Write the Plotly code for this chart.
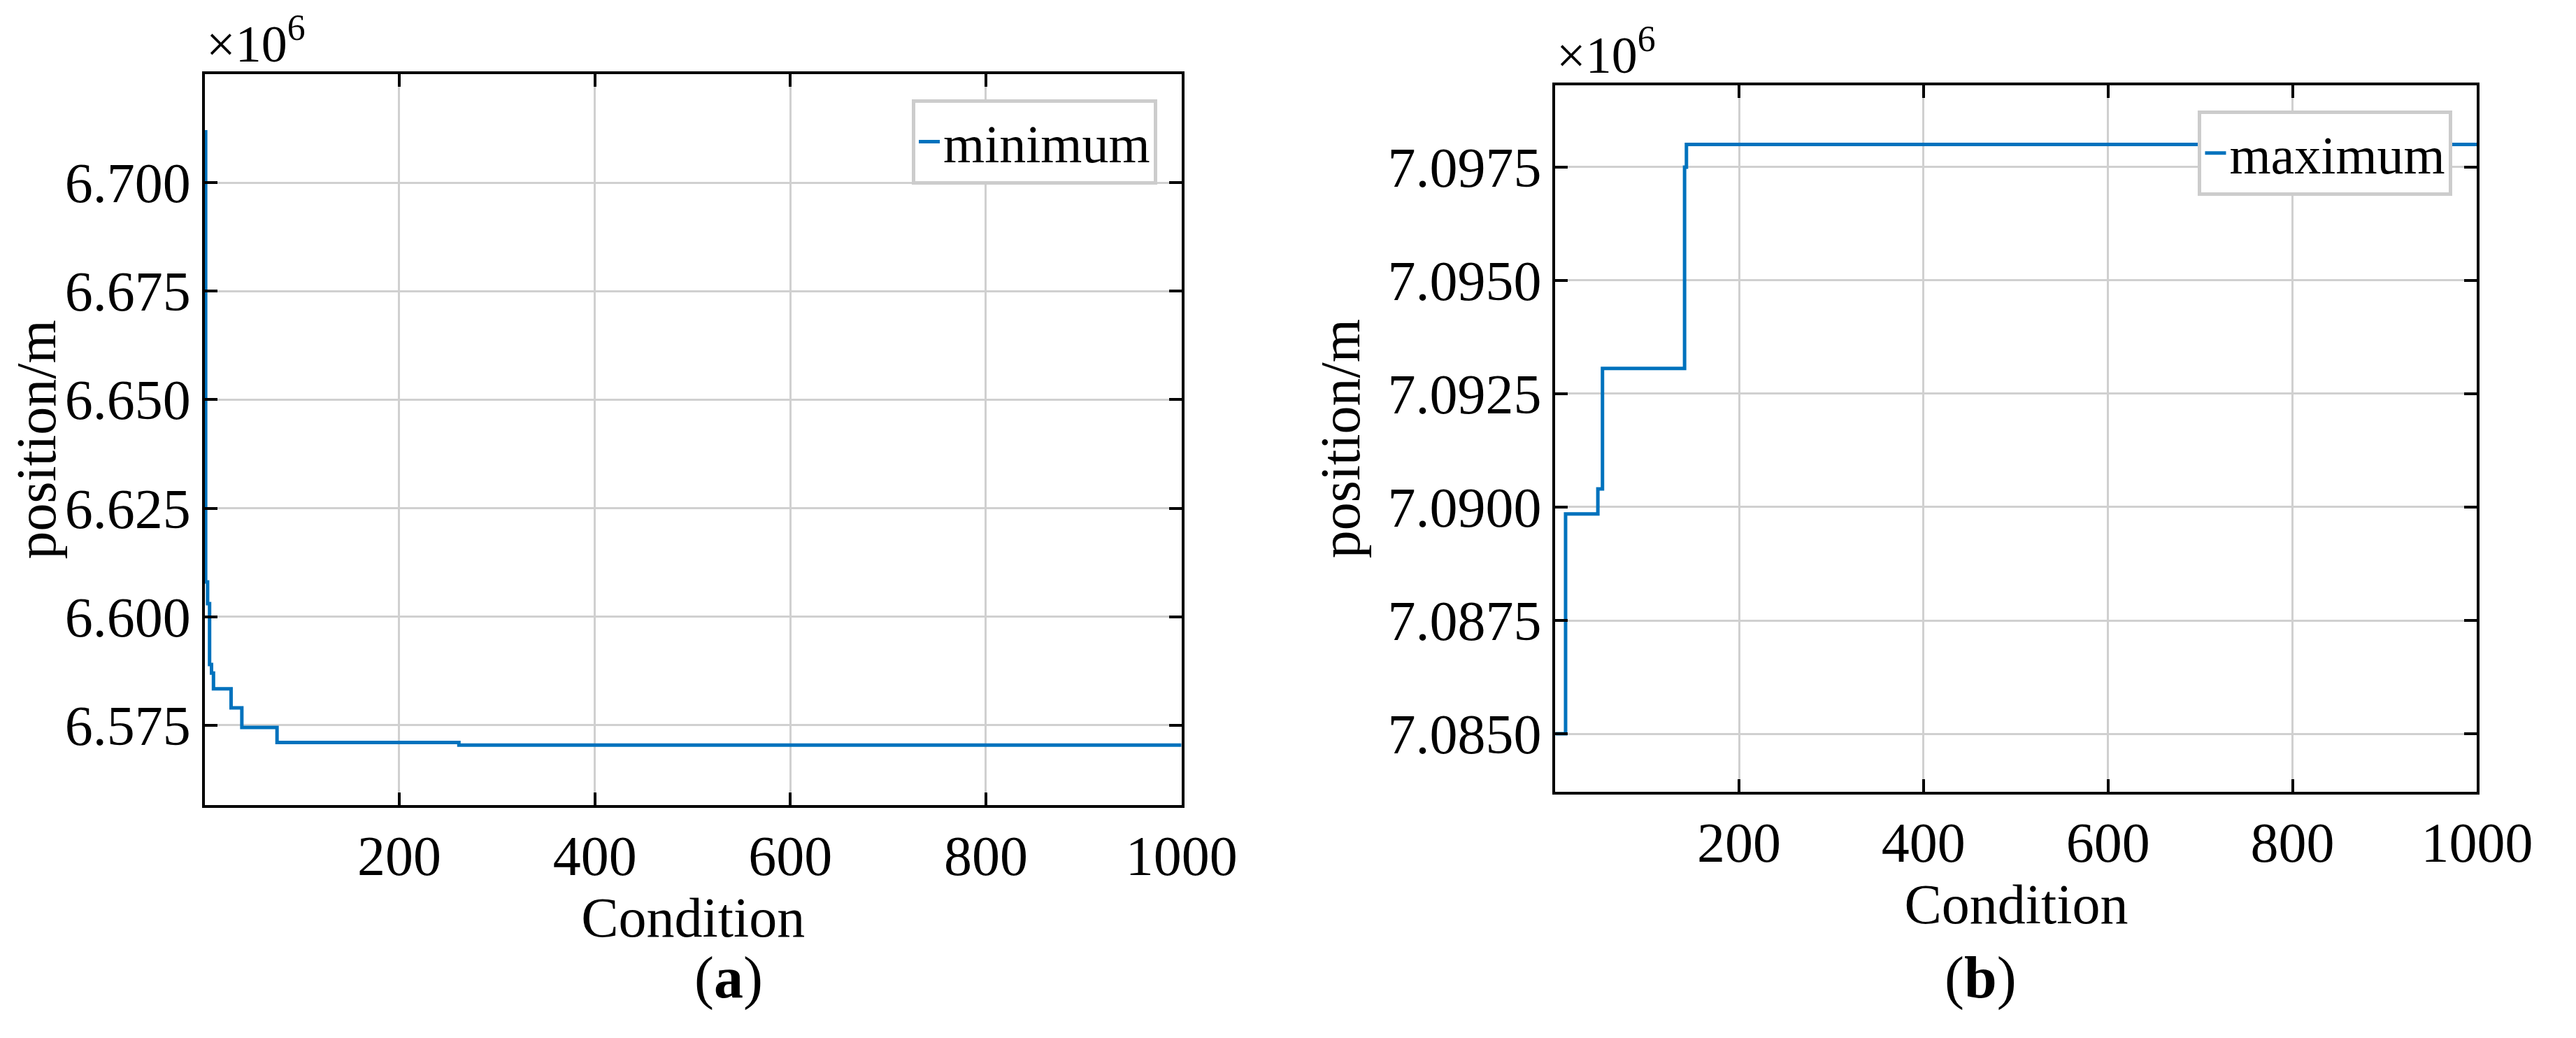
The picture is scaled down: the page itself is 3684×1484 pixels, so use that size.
import plotly.graph_objects as go

# left panel: minimum position (x10^6 m)
min_x = [1, 2, 4, 6, 8, 10, 28, 39, 75, 261, 1000]
min_y = [6.7117, 6.608, 6.603, 6.589, 6.587, 6.5834, 6.579, 6.5745, 6.571, 6.5704, 6.5704]

# right panel: maximum position (x10^6 m)
max_x = [1, 12, 47, 52, 141, 143, 1000]
max_y = [7.0850, 7.08985, 7.0904, 7.09306, 7.0975, 7.0980, 7.0980]

min_ticks = [6.575, 6.600, 6.625, 6.650, 6.675, 6.700]
max_ticks = [7.0850, 7.0875, 7.0900, 7.0925, 7.0950, 7.0975]
x_ticks = [200, 400, 600, 800, 1000]

FONT = "Liberation Serif"
BLUE = "#0072BD"
FS = 80

fig = go.Figure()
fig.add_trace(go.Scatter(x=min_x, y=min_y, mode="lines", name="minimum",
                         line=dict(color=BLUE, width=5, shape="hv"),
                         xaxis="x", yaxis="y", legend="legend", showlegend=True))
fig.add_trace(go.Scatter(x=max_x, y=max_y, mode="lines", name="maximum",
                         line=dict(color=BLUE, width=5, shape="hv"),
                         xaxis="x2", yaxis="y2", legend="legend2", showlegend=True))

axis_common = dict(showline=True, linecolor="black", linewidth=4, mirror="ticks",
                   ticks="inside", ticklen=18, tickwidth=4, tickcolor="black",
                   showgrid=True, gridcolor="#d0d0d0", gridwidth=3, zeroline=False,
                   tickfont=dict(family=FONT, size=FS, color="black"))

legend_common = dict(xanchor="right", yanchor="top", bordercolor="#cccccc",
                     borderwidth=5, bgcolor="white",
                     font=dict(family=FONT, size=FS - 4))

fig.update_layout(
    width=3684, height=1484, margin=dict(l=0, r=0, t=0, b=0),
    plot_bgcolor="white", paper_bgcolor="white", showlegend=True,
    font=dict(family=FONT, color="black"),
    xaxis=dict(domain=[0.079, 0.4666], range=[1, 1000], tickvals=x_ticks,
               title=dict(text="Condition", font=dict(size=FS), standoff=14), anchor="y",
               **axis_common),
    yaxis=dict(domain=[0.2298, 0.934], range=[6.5566, 6.725], tickvals=min_ticks,
               tickformat=".3f",
               title=dict(text="position/m", font=dict(size=FS), standoff=14), anchor="x",
               **axis_common),
    xaxis2=dict(domain=[0.615, 0.9807], range=[1, 1000], tickvals=x_ticks,
                title=dict(text="Condition", font=dict(size=FS), standoff=14), anchor="y2",
                **axis_common),
    yaxis2=dict(domain=[0.2426, 0.923], range=[7.08372, 7.0993], tickvals=max_ticks,
                tickformat=".4f",
                title=dict(text="position/m", font=dict(size=FS), standoff=14), anchor="x2",
                **axis_common),
    legend=dict(x=0.457, y=0.91, **legend_common),
    legend2=dict(x=0.971, y=0.899, **legend_common),
    annotations=[
        dict(text="×10<sup>6</sup>", x=0.079, y=0.934, xref="paper", yref="paper",
             xanchor="left", yanchor="bottom", showarrow=False, font=dict(size=FS - 6)),
        dict(text="×10<sup>6</sup>", x=0.615, y=0.923, xref="paper", yref="paper",
             xanchor="left", yanchor="bottom", showarrow=False, font=dict(size=FS - 6)),
        dict(text="(<b>a</b>)", x=0.2728, y=0.03, xref="paper", yref="paper",
             showarrow=False, font=dict(size=FS + 4)),
        dict(text="(<b>b</b>)", x=0.7985, y=0.03, xref="paper", yref="paper",
             showarrow=False, font=dict(size=FS + 4)),
    ],
)

fig.write_html("out.html")
